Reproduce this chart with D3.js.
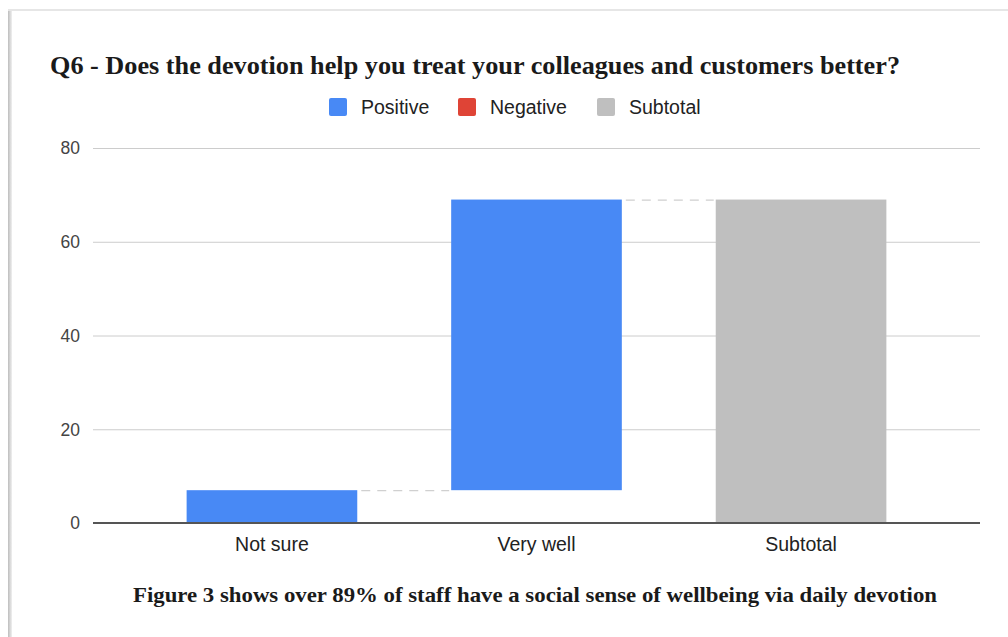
<!DOCTYPE html>
<html lang="en">
<head>
  <meta charset="UTF-8" />
  <title>Q6 waterfall</title>
  <script src="https://d3js.org/d3.v7.min.js"></script>
  <style>
    body { margin: 0; background: #fff; }
    svg { display: block; }
  </style>
</head>
<body>
  <svg width="1008" height="637"></svg>
  <script>
    // data
    const categories = ["Not sure", "Very well"];
    const values = [7, 62];
    const subtotalLabel = "Subtotal";
    const yTicks = [0, 20, 40, 60, 80];
    const legendItems = ["Positive", "Negative", "Subtotal"];

    const colors = { Positive: "#4889f5", Negative: "#df4436", Subtotal: "#bfbfbf" };

    const svg = d3.select("svg");
    const W = 1008, H = 637;

    // card frame (top edge + left shadow)
    const defs = svg.append("defs");
    const grad = defs.append("linearGradient").attr("id", "lshadow");
    grad.append("stop").attr("offset", "0%").attr("stop-color", "#bdbdbd");
    grad.append("stop").attr("offset", "100%").attr("stop-color", "#f0f0f0");
    svg.append("rect").attr("x", 8).attr("y", 10).attr("width", 4).attr("height", H - 10).attr("fill", "url(#lshadow)");
    svg.append("rect").attr("x", 8).attr("y", 9).attr("width", W - 8).attr("height", 2).attr("fill", "#e6e6e6");

    // build waterfall rows
    let run = 0;
    const rows = categories.map((c, i) => {
      const r = { name: c, start: run, end: run + values[i], type: values[i] >= 0 ? "Positive" : "Negative" };
      run += values[i];
      return r;
    });
    rows.push({ name: subtotalLabel, start: 0, end: run, type: "Subtotal" });

    const x = d3.scaleBand().domain(rows.map(d => d.name)).range([139, 934]).paddingInner(0.355).paddingOuter(0.18);
    const y = d3.scaleLinear().domain([0, 80]).range([523, 148]);
    const gridL = 93, gridR = 980;
    const sans = "'Liberation Sans', Arial, sans-serif";
    const serif = "'Liberation Serif', 'DejaVu Serif', serif";

    // title
    svg.append("text")
      .attr("x", 50).attr("y", 74)
      .attr("font-family", serif)
      .attr("font-weight", "bold").attr("font-size", 25).attr("fill", "#1a1a1a")
      .attr("textLength", 850).attr("lengthAdjust", "spacingAndGlyphs")
      .text("Q6 - Does the devotion help you treat your colleagues and customers better?");

    // legend
    const lg = svg.append("g").attr("font-family", sans).attr("font-size", 19.5);
    const legendX = [329, 458, 597];
    legendItems.forEach((k, i) => {
      lg.append("rect").attr("x", legendX[i]).attr("y", 98).attr("width", 18).attr("height", 18)
        .attr("rx", 2).attr("fill", colors[k]);
      lg.append("text").attr("x", legendX[i] + 32).attr("y", 114).attr("fill", "#222").text(k);
    });

    // gridlines + y labels
    const ax = svg.append("g");
    ax.selectAll("line.grid").data(yTicks.filter(t => t !== 0)).join("line")
      .attr("class", "grid")
      .attr("x1", gridL).attr("x2", gridR)
      .attr("y1", d => y(d) + 0.5).attr("y2", d => y(d) + 0.5)
      .attr("stroke", "#cccccc").attr("stroke-width", 1);
    ax.selectAll("text").data(yTicks).join("text")
      .attr("x", 80).attr("y", d => y(d)).attr("dy", "0.36em")
      .attr("text-anchor", "end")
      .attr("font-family", sans).attr("font-size", 17.5)
      .attr("fill", "#444").text(d => d);

    // connectors
    const conn = rows.slice(0, -1).map((d, i) => ({ x1: x(d.name) + x.bandwidth(), x2: x(rows[i + 1].name), v: d.end }));
    svg.append("g").selectAll("line").data(conn).join("line")
      .attr("x1", d => d.x1 + 4).attr("x2", d => d.x2 - 2)
      .attr("y1", d => y(d.v) + 0.5).attr("y2", d => y(d.v) + 0.5)
      .attr("stroke", "#d0d0d0").attr("stroke-width", 1.2).attr("stroke-dasharray", "9,7");

    // bars
    svg.append("g").selectAll("rect").data(rows).join("rect")
      .attr("x", d => x(d.name))
      .attr("width", x.bandwidth())
      .attr("y", d => y(Math.max(d.start, d.end)))
      .attr("height", d => Math.abs(y(d.start) - y(d.end)))
      .attr("fill", d => colors[d.type]);

    // zero line
    svg.append("line").attr("x1", gridL).attr("x2", gridR).attr("y1", y(0)).attr("y2", y(0))
      .attr("stroke", "#555").attr("stroke-width", 2);

    // category labels
    svg.append("g").selectAll("text").data(rows).join("text")
      .attr("x", d => x(d.name) + x.bandwidth() / 2).attr("y", 551)
      .attr("text-anchor", "middle")
      .attr("font-family", sans).attr("font-size", 19.5)
      .attr("fill", "#222").text(d => d.name);

    // caption
    svg.append("text")
      .attr("x", 535).attr("y", 602).attr("text-anchor", "middle")
      .attr("font-family", serif)
      .attr("font-weight", "bold").attr("font-size", 21).attr("fill", "#1a1a1a")
      .attr("textLength", 804).attr("lengthAdjust", "spacingAndGlyphs")
      .text("Figure 3 shows over 89% of staff have a social sense of wellbeing via daily devotion");
  </script>
</body>
</html>
